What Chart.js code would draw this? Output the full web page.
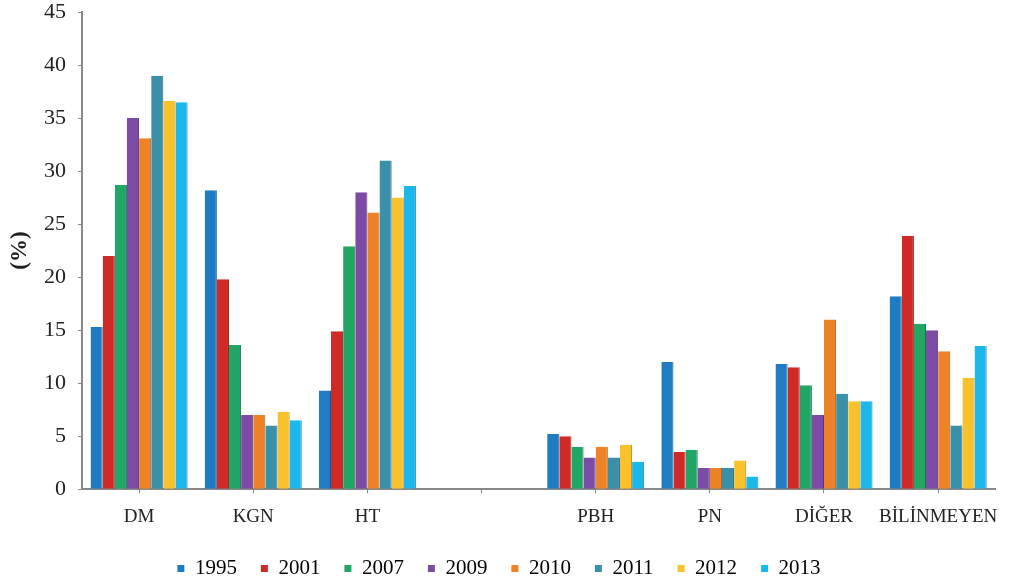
<!DOCTYPE html>
<html>
<head>
<meta charset="utf-8">
<script src="https://cdn.jsdelivr.net/npm/chart.js@4"></script>
<style>
  html, body { margin: 0; padding: 0; background: #fff; }
  #wrap { width: 1010px; height: 581px; position: relative; }
</style>
</head>
<body>
<div id="wrap"><canvas id="grafico"></canvas></div>
<script>
// categorias (a 4a fica vazia, como no original)
const categorias = ['DM', 'KGN', 'HT', '', 'PBH', 'PN', 'DİĞER', 'BİLİNMEYEN'];
const anos = ['1995', '2001', '2007', '2009', '2010', '2011', '2012', '2013'];

// valores por ano (%)
const v1995 = [15.3, 28.2, 9.3, null, 5.2, 12.0, 11.8, 18.2];
const v2001 = [22.0, 19.8, 14.9, null, 5.0, 3.5, 11.5, 23.9];
const v2007 = [28.7, 13.6, 22.9, null, 4.0, 3.7, 9.8, 15.6];
const v2009 = [35.0, 7.0, 28.0, null, 3.0, 2.0, 7.0, 15.0];
const v2010 = [33.1, 7.0, 26.1, null, 4.0, 2.0, 16.0, 13.0];
const v2011 = [39.0, 6.0, 31.0, null, 3.0, 2.0, 9.0, 6.0];
const v2012 = [36.6, 7.3, 27.5, null, 4.2, 2.7, 8.3, 10.5];
const v2013 = [36.5, 6.5, 28.6, null, 2.6, 1.2, 8.3, 13.5];

const yTicks = [0, 5, 10, 15, 20, 25, 30, 35, 40, 45];

const series = [v1995, v2001, v2007, v2009, v2010, v2011, v2012, v2013];
const cores = ['#1f7cc3', '#d02a27', '#21a666', '#7b4ba6', '#ee8227', '#3a8fa9', '#f9c22c', '#1cb8ec'];
const bordas = ['#155a8e', '#8f1b19', '#167548', '#573477', '#a95a18', '#286577', '#b88c1c', '#1486ac'];

const fonte = 'Liberation Serif';

let datasets = [];
for (let i = 0; i < series.length; i++) {
    datasets.push({
        label: anos[i],
        data: series[i],
        backgroundColor: cores[i],
        borderColor: bordas[i],
        borderWidth: { left: 0, right: 1, top: 0, bottom: 0 },
        borderSkipped: false,
        categoryPercentage: 0.85,
        barPercentage: 1.0
    });
}

// aperta a legenda (menos espaço vertical) e sobe um pouco o texto
const ajusteLegenda = {
    id: 'ajusteLegenda',
    beforeInit: function (chart) {
        const fitOriginal = chart.legend.fit;
        chart.legend.fit = function () {
            fitOriginal.bind(chart.legend)();
            this.height -= 14;
        };
    },
    afterLayout: function (chart) {
        chart.legend.top -= 6;
        chart.legend.bottom -= 6;
    }
};

const config = {
    type: 'bar',
    data: { labels: categorias, datasets: datasets },
    options: {
        responsive: true,
        maintainAspectRatio: false,
        animation: false,
        layout: { padding: { left: 0, right: 12, top: 4, bottom: 0 } },
        plugins: {
            tooltip: { enabled: false },
            legend: {
                position: 'bottom',
                labels: {
                    font: { family: fonte, size: 21 },
                    color: '#222',
                    boxWidth: 7,
                    boxHeight: 7,
                    padding: 24,
                    generateLabels: function (chart) {
                        return chart.data.datasets.map(function (ds, i) {
                            return {
                                text: ds.label,
                                fillStyle: ds.backgroundColor,
                                strokeStyle: ds.backgroundColor,
                                lineWidth: 0,
                                datasetIndex: i
                            };
                        });
                    }
                }
            }
        },
        scales: {
            x: {
                grid: { display: true, drawOnChartArea: false, offset: false, tickLength: 4, color: '#888' },
                border: { color: '#888', width: 2 },
                ticks: { font: { family: fonte, size: 19 }, color: '#222', padding: 12, maxRotation: 0, autoSkip: false }
            },
            y: {
                min: 0,
                max: 45,
                afterBuildTicks: function (axis) {
                    axis.ticks = yTicks.map(function (v) { return { value: v }; });
                },
                afterFit: function (axis) {
                    axis.paddingTop = 12;
                    axis.paddingBottom = 12;
                },
                grid: { display: true, drawOnChartArea: false, tickLength: 4, color: '#888' },
                border: { color: '#888', width: 2 },
                ticks: { font: { family: fonte, size: 22 }, color: '#222', padding: 12 },
                title: {
                    display: true,
                    text: '(%)',
                    font: { family: fonte, size: 23, weight: 'bold', lineHeight: 1.0 },
                    color: '#222',
                    padding: { top: 9, bottom: 0 }
                }
            }
        }
    },
    plugins: [ajusteLegenda]
};

new Chart(document.getElementById('grafico'), config);
</script>
</body>
</html>
